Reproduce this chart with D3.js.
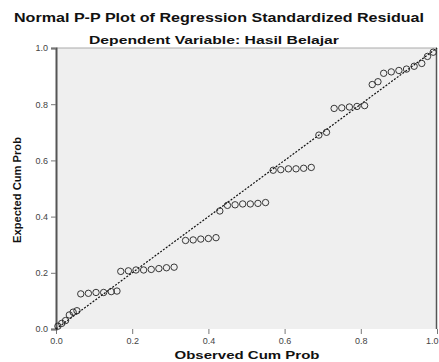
<!DOCTYPE html>
<html>
<head>
<meta charset="utf-8">
<script src="https://cdn.jsdelivr.net/npm/d3@7"></script>
<style>
  body { margin: 0; background: #fff; }
  text { font-family: "Liberation Sans", Arial, sans-serif; }
</style>
</head>
<body>
<script>
// observed cum prob (x) / expected cum prob (y)
var observed = [0.005, 0.015, 0.025,
  0.035, 0.045, 0.055,
  0.065, 0.085, 0.105, 0.125, 0.145, 0.16,
  0.17, 0.19, 0.21, 0.23, 0.25, 0.27, 0.29, 0.31,
  0.34, 0.36, 0.38, 0.40, 0.42,
  0.43, 0.45, 0.47, 0.49, 0.51, 0.53, 0.55,
  0.57, 0.59, 0.61, 0.63, 0.65, 0.67,
  0.69, 0.71,
  0.73, 0.75, 0.77, 0.79, 0.81,
  0.83, 0.845,
  0.86, 0.88, 0.90, 0.92, 0.94, 0.96,
  0.975, 0.99];
var expected = [0.01, 0.02, 0.03,
  0.05, 0.06, 0.065,
  0.125, 0.127, 0.13, 0.13, 0.133, 0.135,
  0.205, 0.207, 0.21, 0.21, 0.212, 0.215, 0.218, 0.22,
  0.315, 0.317, 0.32, 0.322, 0.325,
  0.42, 0.44, 0.442, 0.445, 0.445, 0.447, 0.45,
  0.565, 0.567, 0.57, 0.57, 0.572, 0.575,
  0.69, 0.70,
  0.785, 0.787, 0.79, 0.792, 0.795,
  0.87, 0.88,
  0.91, 0.915, 0.92, 0.925, 0.935, 0.945,
  0.97, 0.985];
var refLine = [0, 1];
var tickValues = [0, 0.2, 0.4, 0.6, 0.8, 1.0];

var W = 439, H = 362;
var margin = {left: 56, right: 2, top: 48, bottom: 33};

var svg = d3.select("body").append("svg")
            .attr("width", W).attr("height", H);

var x = d3.scaleLinear().domain([0, 1]).range([margin.left, W - margin.right]);
var y = d3.scaleLinear().domain([0, 1]).range([H - margin.bottom, margin.top]);

// titles
svg.append("text").attr("x", 219).attr("y", 22)
   .attr("text-anchor", "middle").attr("font-weight", "bold").attr("font-size", 13.5)
   .attr("textLength", 410).attr("lengthAdjust", "spacingAndGlyphs")
   .attr("fill", "#111")
   .text("Normal P-P Plot of Regression Standardized Residual");
svg.append("text").attr("x", 214).attr("y", 44)
   .attr("text-anchor", "middle").attr("font-weight", "bold").attr("font-size", 11)
   .attr("textLength", 250).attr("lengthAdjust", "spacingAndGlyphs")
   .attr("fill", "#111")
   .text("Dependent Variable: Hasil Belajar");

// plot area
svg.append("rect")
   .attr("x", x(0)).attr("y", y(1))
   .attr("width", x(1) - x(0)).attr("height", y(0) - y(1))
   .attr("fill", "#efefef");
svg.append("line")
   .attr("x1", x(0)).attr("x2", x(1)).attr("y1", y(1)).attr("y2", y(1))
   .attr("stroke", "#aaa").attr("stroke-width", 1);
svg.append("line")
   .attr("x1", x(1) - 0.5).attr("x2", x(1) - 0.5).attr("y1", y(1)).attr("y2", y(0))
   .attr("stroke", "#555").attr("stroke-width", 1.5);

// axes
var xAxis = svg.append("g")
   .attr("transform", "translate(0," + y(0) + ")")
   .call(d3.axisBottom(x).tickValues(tickValues).tickFormat(d3.format(".1f")).tickSize(5).tickPadding(4));
xAxis.select(".domain").remove();
// last label would run off the right edge
xAxis.selectAll(".tick text").filter(function(d) { return d === 1; })
   .attr("text-anchor", "end").attr("dx", 1);

var yAxis = svg.append("g")
   .attr("transform", "translate(" + x(0) + ",0)")
   .call(d3.axisLeft(y).tickValues(tickValues).tickFormat(d3.format(".1f")).tickSize(5).tickPadding(3));
yAxis.select(".domain").attr("stroke", "#555").attr("stroke-width", 2);

svg.selectAll(".tick line").attr("stroke", "#777");
svg.selectAll(".tick text").attr("font-size", 9).attr("fill", "#444")
   .attr("font-family", "Liberation Sans, Arial, sans-serif");

svg.append("text").attr("x", 247).attr("y", 359)
   .attr("text-anchor", "middle").attr("font-weight", "bold").attr("font-size", 11)
   .attr("textLength", 145).attr("lengthAdjust", "spacingAndGlyphs")
   .attr("fill", "#111")
   .text("Observed Cum Prob");
svg.append("text")
   .attr("transform", "translate(21,190) rotate(-90)")
   .attr("text-anchor", "middle").attr("font-weight", "bold").attr("font-size", 10.5)
   .attr("textLength", 106).attr("lengthAdjust", "spacingAndGlyphs")
   .attr("fill", "#111")
   .text("Expected Cum Prob");

// reference line
svg.append("line")
   .attr("x1", x(refLine[0])).attr("y1", y(refLine[0]))
   .attr("x2", x(refLine[1])).attr("y2", y(refLine[1]))
   .attr("stroke", "#111").attr("stroke-width", 1.2)
   .attr("stroke-dasharray", "2,1.5");

// points
var pts = observed.map(function(d, i) { return {o: d, e: expected[i]}; });
svg.selectAll("circle.pt").data(pts).enter()
   .append("circle").attr("class", "pt")
   .attr("cx", function(d) { return x(d.o); })
   .attr("cy", function(d) { return y(d.e); })
   .attr("r", 3.2)
   .attr("fill", "none").attr("stroke", "#222").attr("stroke-width", 0.9);
</script>
</body>
</html>
